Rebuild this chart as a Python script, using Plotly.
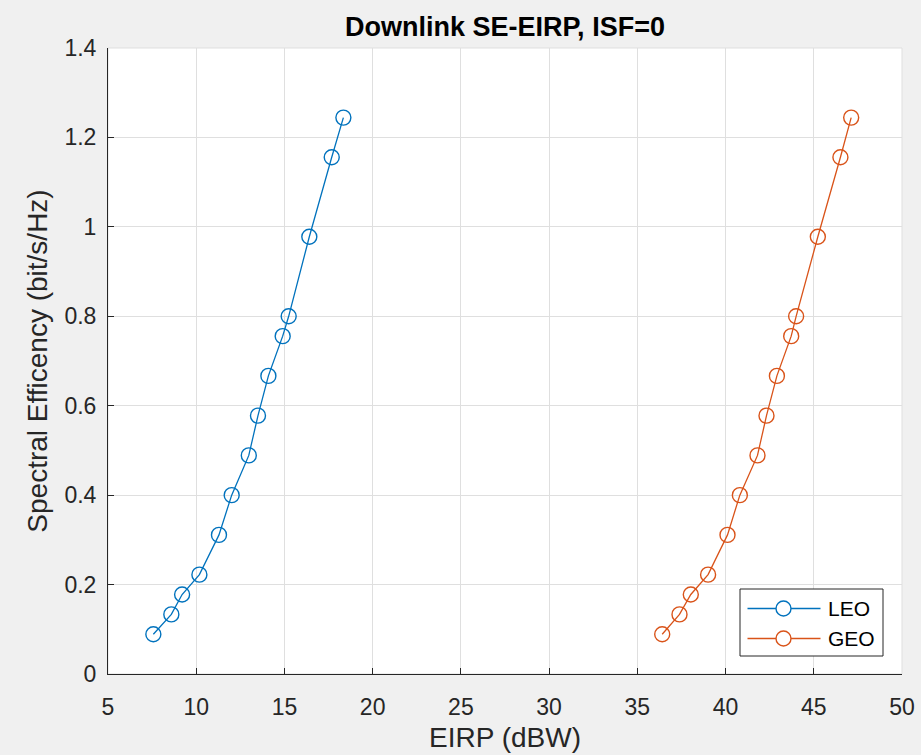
import plotly.graph_objects as go

# Spectral efficiency (bit/s/Hz) per operating point, shared by both orbits
spectral_eff = [0.0889, 0.1333, 0.1778, 0.2222, 0.3111, 0.4000, 0.4889,
                0.5778, 0.6667, 0.7556, 0.8000, 0.9778, 1.1556, 1.2444]

# Required EIRP (dBW) per operating point
eirp_leo = [7.57, 8.59, 9.20, 10.18, 11.29, 12.01, 12.98,
            13.50, 14.09, 14.90, 15.24, 16.41, 17.68, 18.34]
eirp_geo = [36.41, 37.39, 38.03, 39.01, 40.11, 40.81, 41.81,
            42.32, 42.91, 43.72, 44.00, 45.23, 46.51, 47.12]

series_names = ["LEO", "GEO"]
series_colors = ["#0072BD", "#D95319"]

x_ticks = [5, 10, 15, 20, 25, 30, 35, 40, 45, 50]
y_ticks = [0, 0.2, 0.4, 0.6, 0.8, 1.0, 1.2, 1.4]
y_tick_text = ["0", "0.2", "0.4", "0.6", "0.8", "1", "1.2", "1.4"]

FONT = "Liberation Sans, Arial, Helvetica, sans-serif"
AXIS_COLOR = "#262626"
GRID_COLOR = "#dfdfdf"

W, H = 921, 755
ML, MR, MT, MB = 108, 19, 48, 81
PW, PH = W - ML - MR, H - MT - MB


def px_x(px):
    """Horizontal pixel -> paper fraction."""
    return (px - ML) / PW


def px_y(py):
    """Vertical pixel (from top) -> paper fraction."""
    return (H - MB - py) / PH


fig = go.Figure()
for name, xs, color in zip(series_names, [eirp_leo, eirp_geo], series_colors):
    fig.add_trace(go.Scatter(
        x=xs, y=spectral_eff, name=name, mode="lines+markers",
        line=dict(color=color, width=1.3),
        marker=dict(symbol="circle-open", size=15, color=color,
                    line=dict(color=color, width=1.4)),
        showlegend=False,
    ))

axis_common = dict(
    showline=True, linecolor=AXIS_COLOR, linewidth=1,
    ticks="inside", ticklen=6, tickcolor=AXIS_COLOR, tickwidth=1,
    showgrid=True, gridcolor=GRID_COLOR, gridwidth=1,
    zeroline=False, mirror=False, automargin=False,
    tickfont=dict(family=FONT, size=23, color=AXIS_COLOR),
    title_font=dict(family=FONT, size=28, color=AXIS_COLOR),
)

fig.update_layout(
    width=W, height=H,
    margin=dict(l=ML, r=MR, t=MT, b=MB),
    paper_bgcolor="#f0f0f0",
    plot_bgcolor="#ffffff",
    title=dict(text="<b>Downlink SE-EIRP, ISF=0</b>",
               x=(ML + PW / 2) / W, xanchor="center",
               y=1 - 27 / H, yanchor="middle",
               font=dict(family=FONT, size=27, color="#000000")),
    xaxis=dict(range=[5, 50], tickvals=x_ticks, title_text="EIRP (dBW)",
               ticklabelstandoff=12, title_standoff=8, **axis_common),
    yaxis=dict(range=[0, 1.4], tickvals=y_ticks, ticktext=y_tick_text,
               title_text="Spectral Efficency (bit/s/Hz)",
               ticklabelstandoff=6, title_standoff=8, **axis_common),
    showlegend=False,
)

# light box around the axes area
fig.add_shape(type="rect", xref="paper", yref="paper", x0=0, y0=0, x1=1, y1=1,
              line=dict(color=GRID_COLOR, width=1), layer="below")

# legend box with line-and-circle samples
box_l, box_r, box_t, box_b = 740, 883, 589, 656
fig.add_shape(type="rect", xref="paper", yref="paper",
              x0=px_x(box_l), x1=px_x(box_r), y0=px_y(box_b), y1=px_y(box_t),
              line=dict(color="#262626", width=1), fillcolor="#ffffff",
              layer="above")
row_y = [608.5, 638.5]
line_l, line_r, mark_cx, mark_r, text_x = 747.5, 820.5, 783.5, 7.5, 826
for name, color, ry in zip(series_names, series_colors, row_y):
    fig.add_shape(type="line", xref="paper", yref="paper",
                  x0=px_x(line_l), x1=px_x(line_r), y0=px_y(ry), y1=px_y(ry),
                  line=dict(color=color, width=1.3), layer="above")
    fig.add_shape(type="circle", xref="paper", yref="paper",
                  x0=px_x(mark_cx - mark_r), x1=px_x(mark_cx + mark_r),
                  y0=px_y(ry + mark_r), y1=px_y(ry - mark_r),
                  line=dict(color=color, width=1.4), fillcolor="#ffffff",
                  layer="above")
    fig.add_annotation(text=name, xref="paper", yref="paper",
                       x=px_x(text_x), y=px_y(ry), xanchor="left",
                       yanchor="middle", showarrow=False,
                       font=dict(family=FONT, size=21, color="#000000"))

fig.write_html("out.html")
